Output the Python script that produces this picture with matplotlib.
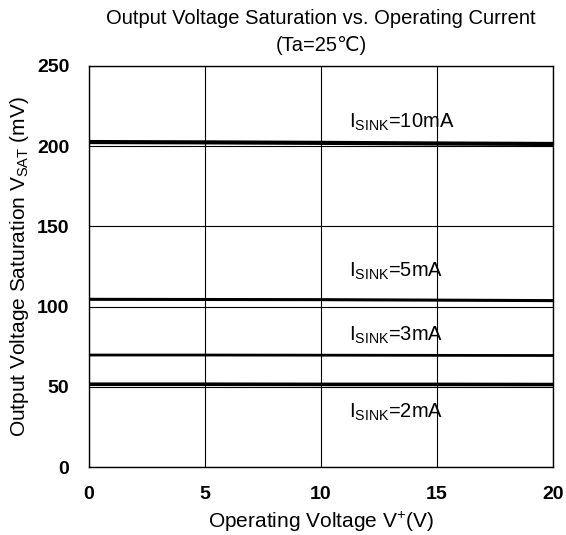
import numpy as np
import matplotlib.pyplot as plt

plt.rcParams['font.family'] = ['Liberation Sans', 'DejaVu Sans']
plt.rcParams['mathtext.fontset'] = 'custom'
plt.rcParams['mathtext.rm'] = 'Liberation Sans'

# supply voltage (V)
v_plus = [0, 5, 10, 15, 20]
# saturation voltage (mV) per sink current
vsat_10ma = [202.5, 202.3, 202.0, 201.6, 201.3]
vsat_5ma = [104.5, 104.4, 104.3, 104.0, 103.7]
vsat_3ma = [69.8, 69.8, 69.7, 69.6, 69.5]
vsat_2ma = [51.6, 51.6, 51.5, 51.5, 51.4]

labels = [r'I$_{\mathrm{SINK}}$=10mA', r'I$_{\mathrm{SINK}}$=5mA',
          r'I$_{\mathrm{SINK}}$=3mA', r'I$_{\mathrm{SINK}}$=2mA']
label_y = [215, 122, 82, 34]

fig = plt.figure(figsize=(5.66, 5.35), dpi=100)
ax = fig.add_axes([0.157, 0.127, 0.82, 0.75])

series = [vsat_10ma, vsat_5ma, vsat_3ma, vsat_2ma]
widths = [3.0, 2.2, 2.0, 2.6]
for s, w in zip(series, widths):
    ax.plot(v_plus, s, color='black', lw=w)

for lab, y in zip(labels, label_y):
    ax.text(11.2, y, lab, fontsize=14.5, va='center', ha='left')

ax.set_xlim(0, 20)
ax.set_ylim(0, 250)
ax.set_xticks(np.arange(0, 21, 5))
ax.set_yticks(np.arange(0, 251, 50))
ax.grid(True, color='black', lw=0.8)
ax.tick_params(length=0, labelsize=14)
ax.tick_params(axis='x', pad=14)
ax.tick_params(axis='y', pad=14)
for t in ax.get_xticklabels() + ax.get_yticklabels():
    t.set_fontweight('bold')
for sp in ax.spines.values():
    sp.set_linewidth(1.0)

ax.set_xlabel(r'Operating Voltage V$^{+}$(V)', fontsize=15)
ax.set_ylabel(r'Output Voltage Saturation V$_{\mathrm{SAT}}$ (mV)', fontsize=15)
ax.xaxis.set_label_coords(0.5, -0.104)
ax.yaxis.set_label_coords(-0.124, 0.5)
fig.text(0.567, 0.965, 'Output Voltage Saturation vs. Operating Current',
         ha='center', va='center', fontsize=14.5)
fig.text(0.567, 0.915, '(Ta=25℃)', ha='center', va='center', fontsize=14.5)

plt.savefig('out.png', dpi=100)
